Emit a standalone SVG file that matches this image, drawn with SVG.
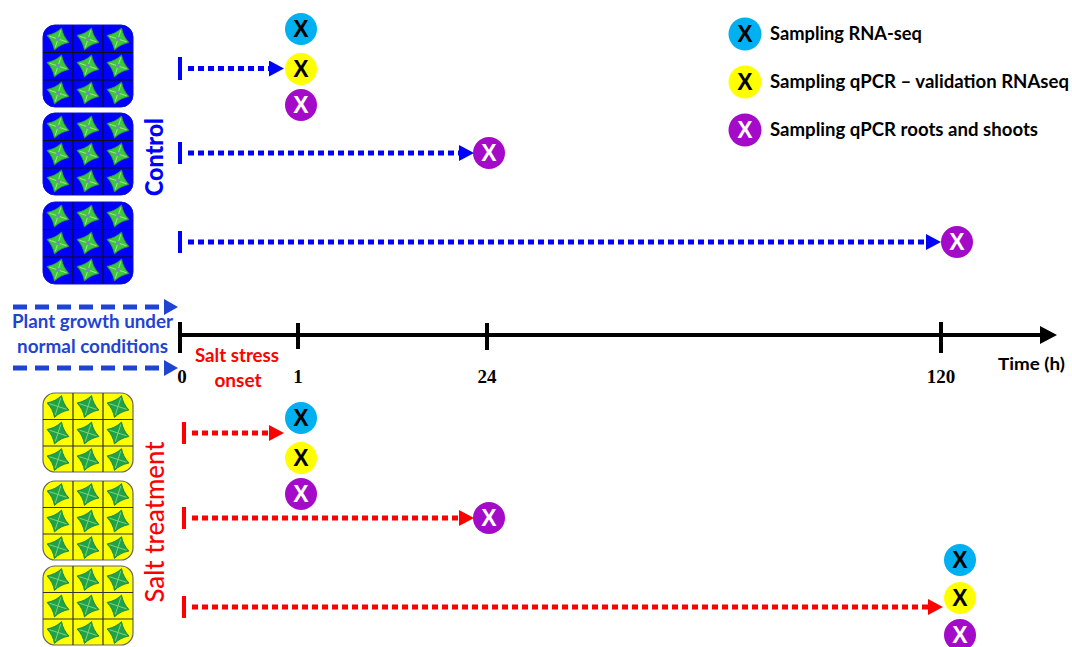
<svg xmlns="http://www.w3.org/2000/svg" xmlns:xlink="http://www.w3.org/1999/xlink" width="1072" height="647" viewBox="0 0 1072 647">
  <style>
    .sans { font-family: Lato, "Open Sans", "Liberation Sans", sans-serif; }
    .serif { font-family: "Liberation Serif", "DejaVu Serif", serif; font-weight: bold; font-size: 19px; text-anchor: middle; fill: #000; }
    .legend { font-family: Lato, "Open Sans", "Liberation Sans", sans-serif; font-weight: bold; font-size: 18px; fill: #000; }
    .mark { font-family: "Liberation Sans", Arial, sans-serif; font-weight: bold; font-size: 23px; text-anchor: middle; }
    .dotBlue { stroke: #0000ff; stroke-width: 5; stroke-dasharray: 6 4; fill: none; }
    .dotRed { stroke: #ff0000; stroke-width: 5; stroke-dasharray: 6 4; fill: none; }
    .dashNav { stroke: #1f44d2; stroke-width: 5; stroke-dasharray: 14 8; fill: none; }
    .axis { stroke: #000; stroke-width: 4; fill: none; }
    .cyan { fill: #00b0f0; }
    .yellow { fill: #ffff00; }
    .purple { fill: #a40bc8; }
  </style>
  <defs>
    <marker id="headBlue" markerUnits="userSpaceOnUse" markerWidth="15" markerHeight="16" refX="0" refY="8" orient="auto">
      <path d="M0,0 L15,8 L0,16 Z" fill="#0000ff"/>
    </marker>
    <marker id="headRed" markerUnits="userSpaceOnUse" markerWidth="15" markerHeight="16" refX="0" refY="8" orient="auto">
      <path d="M0,0 L15,8 L0,16 Z" fill="#ff0000"/>
    </marker>
    <marker id="headNav" markerUnits="userSpaceOnUse" markerWidth="14" markerHeight="16" refX="0" refY="8" orient="auto">
      <path d="M0,0 L14,8 L0,16 Z" fill="#1f44d2"/>
    </marker>
    <marker id="headAxis" markerUnits="userSpaceOnUse" markerWidth="17" markerHeight="18" refX="0" refY="9" orient="auto">
      <path d="M0,0 L17,9 L0,18 Z" fill="#000"/>
    </marker>

    <!-- four-pointed seedling seen from above -->
    <g id="plantBright">
      <g transform="rotate(18)">
        <path d="M0,-11.5 Q4,-4 11.5,0 Q4,4 0,11.5 Q-4,4 -11.5,0 Q-4,-4 0,-11.5 Z" fill="#3cc83c" stroke="#2a9a3a" stroke-width="0.8"/>
        <path d="M0,-9 L0,9 M-9,0 L9,0" stroke="#a6e67c" stroke-width="0.9"/>
        <circle r="2" fill="#6f8fb8"/>
      </g>
    </g>
    <g id="plantDark">
      <g transform="rotate(18)">
        <path d="M0,-11.5 Q4,-4 11.5,0 Q4,4 0,11.5 Q-4,4 -11.5,0 Q-4,-4 0,-11.5 Z" fill="#1fa24a" stroke="#17843a" stroke-width="0.8"/>
        <path d="M0,-9 L0,9 M-9,0 L9,0" stroke="#7ed37a" stroke-width="0.9"/>
      </g>
    </g>

    <!-- control pot tray: 3 x 3 cells -->
    <g id="trayBlue">
      <rect x="0" y="0" width="90" height="82" rx="12" fill="#0000ff" stroke="#1010d0" stroke-width="1"/>
      <path d="M30,0 V82 M60,0 V82 M0,27.5 H90 M0,55 H90" stroke="#111" stroke-width="1.2"/>
      <use xlink:href="#plantBright" x="15" y="14"/>
      <use xlink:href="#plantBright" x="45" y="14"/>
      <use xlink:href="#plantBright" x="75" y="14"/>
      <use xlink:href="#plantBright" x="15" y="41"/>
      <use xlink:href="#plantBright" x="45" y="41"/>
      <use xlink:href="#plantBright" x="75" y="41"/>
      <use xlink:href="#plantBright" x="15" y="68"/>
      <use xlink:href="#plantBright" x="45" y="68"/>
      <use xlink:href="#plantBright" x="75" y="68"/>
    </g>
    <!-- salt-treated pot tray -->
    <g id="trayYellow">
      <rect x="0" y="0" width="90" height="79" rx="12" fill="#ffff00" stroke="#666" stroke-width="1.2"/>
      <path d="M30,0 V79 M60,0 V79 M0,26.5 H90 M0,53 H90" stroke="#333" stroke-width="1.2"/>
      <use xlink:href="#plantDark" x="15" y="13.5"/>
      <use xlink:href="#plantDark" x="45" y="13.5"/>
      <use xlink:href="#plantDark" x="75" y="13.5"/>
      <use xlink:href="#plantDark" x="15" y="40"/>
      <use xlink:href="#plantDark" x="45" y="40"/>
      <use xlink:href="#plantDark" x="75" y="40"/>
      <use xlink:href="#plantDark" x="15" y="66.5"/>
      <use xlink:href="#plantDark" x="45" y="66.5"/>
      <use xlink:href="#plantDark" x="75" y="66.5"/>
    </g>
  </defs>

  <rect width="1072" height="647" fill="#ffffff"/>

  <!-- trays -->
  <g id="control-tray-1"><use xlink:href="#trayBlue" x="43" y="25"/></g>
  <g id="control-tray-2"><use xlink:href="#trayBlue" x="43" y="113"/></g>
  <g id="control-tray-3"><use xlink:href="#trayBlue" x="43" y="202"/></g>
  <g id="salt-tray-1"><use xlink:href="#trayYellow" x="43" y="393"/></g>
  <g id="salt-tray-2"><use xlink:href="#trayYellow" x="43" y="481"/></g>
  <g id="salt-tray-3"><use xlink:href="#trayYellow" x="43" y="566"/></g>

  <!-- group labels -->
  <g id="label-control">
    <text class="sans" transform="translate(163,157) rotate(-90)" text-anchor="middle" font-size="25" font-weight="900" fill="#0000ff" textLength="78" lengthAdjust="spacingAndGlyphs">Control</text>
  </g>
  <g id="label-salt">
    <text class="sans" transform="translate(164,522) rotate(-90)" text-anchor="middle" font-size="26" font-weight="500" fill="#ff0000" textLength="161" lengthAdjust="spacingAndGlyphs">Salt treatment</text>
  </g>

  <!-- pre-treatment growth -->
  <g id="growth-note">
    <text class="sans" x="12" y="328" font-size="19" font-weight="bold" fill="#1f44d2" textLength="161" lengthAdjust="spacingAndGlyphs">Plant growth under</text>
    <text class="sans" x="17" y="353" font-size="19" font-weight="bold" fill="#1f44d2" textLength="151" lengthAdjust="spacingAndGlyphs">normal conditions</text>
  </g>

  <!-- time axis -->
  <g id="time-axis">
    <line class="axis" x1="180" y1="335" x2="1040" y2="335" marker-end="url(#headAxis)"/>
    <path class="axis" d="M180,322 V353 M298,323 V349 M487,323 V350 M941,322 V353"/>
    <text class="serif" x="182" y="383">0</text>
    <text class="serif" x="298" y="383">1</text>
    <text class="serif" x="487" y="383">24</text>
    <text class="serif" x="941" y="383">120</text>
    <text class="sans" x="998" y="370" font-size="17" font-weight="bold" fill="#000" textLength="67" lengthAdjust="spacingAndGlyphs">Time (h)</text>
    <text class="sans" x="237" y="362" font-size="19" font-weight="bold" fill="#ff0000" text-anchor="middle" textLength="84" lengthAdjust="spacingAndGlyphs">Salt stress</text>
    <text class="sans" x="238" y="387" font-size="19" font-weight="bold" fill="#ff0000" text-anchor="middle">onset</text>
  </g>

  <!-- connectors -->
  <g id="connectors">
    <line class="dashNav" x1="13" y1="307" x2="164" y2="307" marker-end="url(#headNav)"/>
    <line class="dashNav" x1="13" y1="368" x2="164" y2="368" marker-end="url(#headNav)"/>

    <rect x="178" y="57" width="4" height="23" fill="#0000ff"/>
    <line class="dotBlue" x1="188" y1="68.5" x2="269" y2="68.5" marker-end="url(#headBlue)"/>
    <rect x="178" y="142" width="4" height="22" fill="#0000ff"/>
    <line class="dotBlue" x1="188" y1="153" x2="459" y2="153" marker-end="url(#headBlue)"/>
    <rect x="178" y="231" width="4" height="22" fill="#0000ff"/>
    <line class="dotBlue" x1="188" y1="242" x2="926" y2="242" marker-end="url(#headBlue)"/>

    <rect x="182" y="422" width="4" height="22" fill="#ff0000"/>
    <line class="dotRed" x1="192" y1="433" x2="269" y2="433" marker-end="url(#headRed)"/>
    <rect x="182" y="507" width="4" height="22" fill="#ff0000"/>
    <line class="dotRed" x1="192" y1="518" x2="459" y2="518" marker-end="url(#headRed)"/>
    <rect x="182" y="596" width="4" height="22" fill="#ff0000"/>
    <line class="dotRed" x1="192" y1="607" x2="928" y2="607" marker-end="url(#headRed)"/>
  </g>

  <!-- sampling points, control -->
  <g id="control-1h">
    <circle class="cyan" cx="301" cy="29" r="16"/><text class="mark" x="301" y="37" fill="#000">X</text>
    <circle class="yellow" cx="301" cy="69" r="16"/><text class="mark" x="301" y="77" fill="#000">X</text>
    <circle class="purple" cx="301" cy="105" r="16"/><text class="mark" x="301" y="113" fill="#fff">X</text>
  </g>
  <g id="control-24h">
    <circle class="purple" cx="489" cy="153" r="16"/><text class="mark" x="489" y="161" fill="#fff">X</text>
  </g>
  <g id="control-120h">
    <circle class="purple" cx="957" cy="242" r="16"/><text class="mark" x="957" y="250" fill="#fff">X</text>
  </g>

  <!-- sampling points, salt -->
  <g id="salt-1h">
    <circle class="cyan" cx="301" cy="418" r="16"/><text class="mark" x="301" y="426" fill="#000">X</text>
    <circle class="yellow" cx="301" cy="458" r="16"/><text class="mark" x="301" y="466" fill="#000">X</text>
    <circle class="purple" cx="301" cy="494" r="16"/><text class="mark" x="301" y="502" fill="#fff">X</text>
  </g>
  <g id="salt-24h">
    <circle class="purple" cx="489" cy="518" r="16"/><text class="mark" x="489" y="526" fill="#fff">X</text>
  </g>
  <g id="salt-120h">
    <circle class="cyan" cx="960" cy="560" r="16"/><text class="mark" x="960" y="568" fill="#000">X</text>
    <circle class="yellow" cx="960" cy="598" r="16"/><text class="mark" x="960" y="606" fill="#000">X</text>
    <circle class="purple" cx="960" cy="635" r="16"/><text class="mark" x="960" y="643" fill="#fff">X</text>
  </g>

  <!-- legend -->
  <g id="legend">
    <circle class="cyan" cx="745" cy="34" r="16.5"/><text class="mark" x="745" y="42" fill="#000">X</text>
    <text class="legend" x="770" y="40" textLength="152" lengthAdjust="spacingAndGlyphs">Sampling RNA-seq</text>
    <circle class="yellow" cx="745" cy="82" r="16.5"/><text class="mark" x="745" y="90" fill="#000">X</text>
    <text class="legend" x="770" y="88" textLength="299" lengthAdjust="spacingAndGlyphs">Sampling qPCR – validation RNAseq</text>
    <circle class="purple" cx="745" cy="130" r="16.5"/><text class="mark" x="745" y="138" fill="#fff">X</text>
    <text class="legend" x="770" y="136" textLength="268" lengthAdjust="spacingAndGlyphs">Sampling qPCR roots and shoots</text>
  </g>
</svg>
